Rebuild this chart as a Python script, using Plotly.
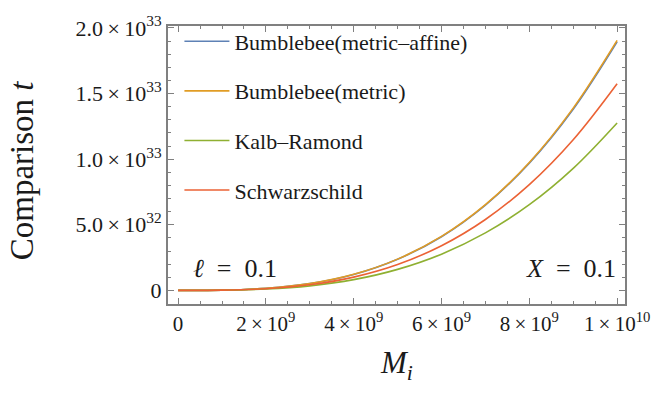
import plotly.graph_objects as go

# Initial mass M_i (units of 1e9)
mass_e9 = [0, 1, 2, 3, 4, 5, 6, 7, 8, 9, 10]

# Comparison time t (units of 1e33)
bumblebee_metric_affine = [0, 0.0019, 0.0152, 0.0512, 0.121, 0.237, 0.409, 0.650, 0.970, 1.381, 1.895]
bumblebee_metric = [0, 0.0019, 0.0152, 0.0514, 0.122, 0.238, 0.411, 0.653, 0.975, 1.389, 1.905]
kalb_ramond = [0, 0.0013, 0.0102, 0.0345, 0.0817, 0.160, 0.276, 0.438, 0.653, 0.930, 1.276]
schwarzschild = [0, 0.0016, 0.0126, 0.0425, 0.101, 0.197, 0.340, 0.540, 0.806, 1.148, 1.575]

series = [
    ("Bumblebee(metric\u2013affine)", bumblebee_metric_affine, "#5E81B5"),
    ("Bumblebee(metric)", bumblebee_metric, "#E19C24"),
    ("Kalb\u2013Ramond", kalb_ramond, "#8FB032"),
    ("Schwarzschild", schwarzschild, "#EB6235"),
]

x_tick_vals = [0, 2e9, 4e9, 6e9, 8e9, 1e10]
x_tick_text = ["0", "2\u2009\u00d7\u200910<sup>9</sup>", "4\u2009\u00d7\u200910<sup>9</sup>",
               "6\u2009\u00d7\u200910<sup>9</sup>", "8\u2009\u00d7\u200910<sup>9</sup>",
               "1\u2009\u00d7\u200910<sup>10</sup>"]
y_tick_vals = [0, 5e32, 1e33, 1.5e33, 2e33]
y_tick_text = ["0", "5.0\u2009\u00d7\u200910<sup>32</sup>", "1.0\u2009\u00d7\u200910<sup>33</sup>",
               "1.5\u2009\u00d7\u200910<sup>33</sup>", "2.0\u2009\u00d7\u200910<sup>33</sup>"]

SERIF = "Liberation Serif, Times New Roman, DejaVu Serif, serif"
FRAME = "#808080"
INK = "#1a1a1a"

fig = go.Figure()
for i, (name, vals, color) in enumerate(series):
    fig.add_trace(go.Scatter(
        x=[m * 1e9 for m in mass_e9],
        y=[v * 1e33 for v in vals],
        mode="lines",
        name=name,
        legendgroup=f"g{i}",
        line=dict(color=color, width=1.6, shape="spline"),
    ))

axis_common = dict(
    showgrid=False, zeroline=False,
    showline=True, linecolor=FRAME, linewidth=2, mirror="allticks",
    ticks="inside", ticklen=6, tickwidth=1, tickcolor=FRAME,
)

fig.update_xaxes(
    range=[-0.23e9, 10.18e9],
    tickmode="array", tickvals=x_tick_vals, ticktext=x_tick_text,
    tickfont=dict(family=SERIF, size=21, color=INK),
    minor=dict(ticks="inside", ticklen=3, tickcolor=FRAME, dtick=5e8, tick0=0),
    **axis_common,
)
fig.update_yaxes(
    range=[-0.104e33, 2.015e33],
    tickmode="array", tickvals=y_tick_vals, ticktext=y_tick_text,
    tickfont=dict(family=SERIF, size=22, color=INK),
    minor=dict(ticks="inside", ticklen=3, tickcolor=FRAME, dtick=1e32, tick0=0),
    **axis_common,
)

fig.update_layout(
    width=662, height=394,
    margin=dict(l=168, r=32, t=20, b=90),
    paper_bgcolor="white", plot_bgcolor="white",
    showlegend=True,
    legend=dict(
        x=0.025, y=1.02, xanchor="left", yanchor="top",
        bgcolor="rgba(0,0,0,0)",
        font=dict(family=SERIF, size=22, color=INK),
        tracegroupgap=18, itemwidth=45,
    ),
    annotations=[
        dict(text="Comparison <i>t</i>", x=-0.364, y=0.48, xref="paper", yref="paper",
             textangle=-90, showarrow=False, font=dict(family=SERIF, size=33, color=INK)),
        dict(text="<i>M<sub>i</sub></i>", x=0.5, y=-0.142, xref="paper", yref="paper",
             yanchor="top", showarrow=False, font=dict(family=SERIF, size=31, color=INK)),
        dict(text="<i>\u2113</i>\u2002=\u20020.1", x=0.05, y=0.07, xref="paper", yref="paper",
             xanchor="left", yanchor="bottom", showarrow=False,
             font=dict(family=SERIF, size=26, color=INK)),
        dict(text="<i>X</i>\u2002=\u20020.1", x=0.985, y=0.07, xref="paper", yref="paper",
             xanchor="right", yanchor="bottom", showarrow=False,
             font=dict(family=SERIF, size=26, color=INK)),
    ],
)

fig.write_html("out.html")
